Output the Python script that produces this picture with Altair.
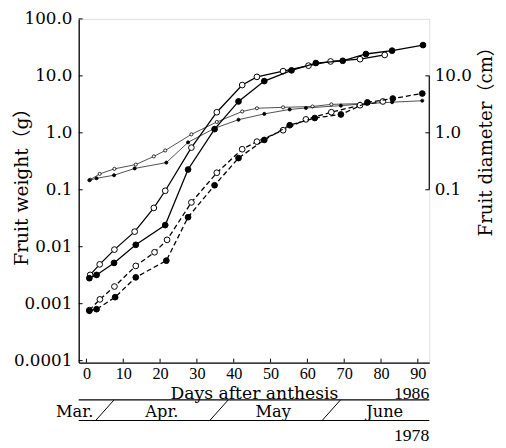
import altair as alt
import pandas as pd

# ---------------- data ----------------
# Fruit weight (g)
wA_day = [1.0, 3.6, 7.6, 13.1, 18.3, 21.4, 28.5, 35.4, 42.3, 46.3, 53.4, 60.3, 66.3, 74.3, 81.0]
wA_val = [0.0032, 0.0049, 0.0089, 0.0184, 0.048, 0.096, 0.55, 2.3, 6.9, 9.6, 12.1, 15.1, 17.9, 19.6, 23.3]
wB_day = [0.8, 2.75, 7.5, 13.4, 21.4, 27.6, 34.8, 41.3, 48.3, 55.7, 62.3, 69.6, 75.9, 83.0, 91.4]
wB_val = [0.0028, 0.0032, 0.0052, 0.0108, 0.024, 0.227, 1.16, 3.56, 8.1, 12.5, 16.8, 18.4, 24.2, 27.7, 34.7]
wC_day = [0.8, 3.65, 7.6, 13.4, 18.5, 21.9, 28.5, 35.4, 42.3, 46.3, 53.4, 59.6, 66.5, 74.3, 80.5]
wC_val = [0.00077, 0.00119, 0.0020, 0.0046, 0.008, 0.0132, 0.060, 0.199, 0.515, 0.70, 1.11, 1.72, 2.30, 3.05, 3.55]
wD_day = [0.8, 2.75, 7.8, 13.4, 21.7, 27.6, 34.8, 41.3, 48.3, 55.2, 62.0, 69.1, 76.3, 83.2, 91.2]
wD_val = [0.00075, 0.0008, 0.0013, 0.0029, 0.0057, 0.033, 0.12, 0.36, 0.75, 1.36, 1.82, 2.1, 3.42, 4.0, 4.9]
# Fruit diameter (cm)
dA_day = [1.0, 3.6, 7.6, 13.4, 18.3, 21.4, 28.5, 35.4, 42.3, 46.3, 53.4, 61.4, 66.5, 74.3]
dA_val = [0.15, 0.19, 0.233, 0.277, 0.385, 0.49, 0.94, 1.55, 2.37, 2.7, 2.8, 2.9, 3.16, 3.25]
dB_day = [0.8, 2.75, 7.5, 13.1, 21.7, 27.6, 34.8, 41.3, 48.3, 55.2, 59.6, 69.1, 76.0, 83.0, 91.2]
dB_val = [0.147, 0.159, 0.18, 0.237, 0.30, 0.68, 1.2, 1.7, 2.15, 2.57, 2.73, 3.0, 3.25, 3.45, 3.66]

x_ticks = [0, 10, 20, 30, 40, 50, 60, 70, 80, 90]
y_ticks = [0.0001, 0.001, 0.01, 0.1, 1, 10, 100]
r_ticks = [0.1, 1, 10]
months = ["Mar.", "Apr.", "May", "June"]
month_mid = [-3.2, 20.5, 50.7, 81.0]
month_bound = [5.0, 36.0, 66.5]
years = ["1986", "1978"]

# ---------------- layout ----------------
W, H = 357, 350
xscale = alt.Scale(domain=[-2.1, 93.1], nice=False, zero=False)
yscale = alt.Scale(type="log", domain=[9.24e-5, 100], nice=False)
LABEL_EXPR = "datum.value >= 1 ? format(datum.value, '.1f') : format(datum.value, '~g')"
TITLE_FONT = "DejaVu Serif, Noto Sans CJK JP"


def series(days, vals, filled, dashed, thin):
    df = pd.DataFrame({"day": days, "value": vals})
    enc = dict(
        x=alt.X("day:Q", scale=xscale, axis=None),
        y=alt.Y("value:Q", scale=yscale, axis=None),
    )
    kw = dict(color="#222" if thin else "black", strokeWidth=0.8 if thin else 1.3)
    if dashed:
        kw["strokeDash"] = [5, 3]
    line = alt.Chart(df).mark_line(**kw).encode(**enc)
    pts = alt.Chart(df).mark_point(
        shape="circle", filled=True, fill="black" if filled else "white",
        stroke="black", strokeWidth=0.8 if thin else 1.0,
        size=10 if thin else 34, opacity=1,
    ).encode(**enc)
    return [line, pts]


layers = []
# left axis + inward ticks
layers.append(
    alt.Chart(pd.DataFrame({"v": y_ticks})).mark_rule(color="black", strokeWidth=1).encode(
        y=alt.Y("v:Q", scale=yscale, axis=alt.Axis(
            orient="left", values=y_ticks, labelExpr=LABEL_EXPR, ticks=False,
            domain=True, domainColor="black", domainWidth=1.3, grid=False,
            labelFont="DejaVu Serif", labelFontSize=17, labelColor="black",
            labelPadding=7, labelOverlap=False, labelBaseline="middle",
            title="Fruit weight（g）", titleFont=TITLE_FONT, titleFontSize=19,
            titleFontWeight="normal", titleColor="black", titleAngle=270,
            titleX=-58, titleY=166, titleAlign="center", titleBaseline="middle")),
        x=alt.value(0), x2=alt.value(4),
    )
)
# bottom axis + inward ticks
layers.append(
    alt.Chart(pd.DataFrame({"v": x_ticks})).mark_rule(color="black", strokeWidth=1).encode(
        x=alt.X("v:Q", scale=xscale, axis=alt.Axis(
            orient="bottom", values=x_ticks, format="d", ticks=False,
            domain=True, domainColor="black", domainWidth=1.3, grid=False,
            labelFont="Liberation Serif", labelFontSize=16.5, labelColor="black",
            labelPadding=3, labelOverlap=False, labelFlush=False,
            title="Days after anthesis", titleFont=TITLE_FONT, titleFontSize=17.5,
            titleFontWeight="normal", titleColor="black",
            titleY=37, titleBaseline="alphabetic")),
        y=alt.value(H), y2=alt.value(H - 4),
    )
)
# right axis (diameter) ticks + labels
layers.append(
    alt.Chart(pd.DataFrame({"v": r_ticks})).mark_rule(color="black", strokeWidth=1).encode(
        y=alt.Y("v:Q", scale=yscale, axis=alt.Axis(
            orient="right", values=r_ticks, labelExpr=LABEL_EXPR, ticks=False,
            domain=False, grid=False,
            labelFont="DejaVu Serif", labelFontSize=17, labelColor="black",
            labelPadding=5, labelOverlap=False, labelBaseline="middle",
            title="Fruit diameter（cm）", titleFont=TITLE_FONT, titleFontSize=18.5,
            titleFontWeight="normal", titleColor="black", titleAngle=270,
            titleX=57, titleY=120, titleAlign="center", titleBaseline="middle")),
        x=alt.value(W - 4), x2=alt.value(W),
    )
)
layers.append(
    alt.Chart(pd.DataFrame({"lo": [r_ticks[0]], "hi": [r_ticks[-1]]})).mark_rule(
        color="black", strokeWidth=1.2).encode(
        y=alt.Y("lo:Q", scale=yscale, axis=None), y2="hi:Q", x=alt.value(W))
)

# data series
layers += series(dA_day, dA_val, filled=False, dashed=False, thin=True)
layers += series(dB_day, dB_val, filled=True, dashed=False, thin=True)
layers += series(wC_day, wC_val, filled=False, dashed=True, thin=False)
layers += series(wD_day, wD_val, filled=True, dashed=True, thin=False)
layers += series(wA_day, wA_val, filled=False, dashed=False, thin=False)
layers += series(wB_day, wB_val, filled=True, dashed=False, thin=False)

# month band below the axis
for yy in (388, 409):
    layers.append(alt.Chart(pd.DataFrame({"a": [0]})).mark_rule(color="black", strokeWidth=1.2).encode(
        x=alt.value(0), x2=alt.value(W), y=alt.value(yy)))
layers.append(
    alt.Chart(pd.DataFrame({"b": month_bound})).transform_calculate(
        b0="datum.b - 2.5", b1="datum.b + 2.5").mark_rule(color="black", strokeWidth=1).encode(
        x=alt.X("b0:Q", scale=xscale, axis=None), x2="b1:Q",
        y=alt.value(409), y2=alt.value(388))
)
layers.append(
    alt.Chart(pd.DataFrame({"m": months, "mid": month_mid})).mark_text(
        font="DejaVu Serif", fontSize=16.5, color="black", baseline="alphabetic", align="center").encode(
        x=alt.X("mid:Q", scale=xscale, axis=None), y=alt.value(405), text="m:N")
)
layers.append(
    alt.Chart(pd.DataFrame({"t": [years[0]]})).mark_text(
        font="Liberation Serif", fontSize=18, color="black", baseline="alphabetic", align="right").encode(
        x=alt.value(W), y=alt.value(387), text="t:N")
)
layers.append(
    alt.Chart(pd.DataFrame({"t": [years[1]]})).mark_text(
        font="Liberation Serif", fontSize=18, color="black", baseline="alphabetic", align="right").encode(
        x=alt.value(W), y=alt.value(430), text="t:N")
)

chart = alt.layer(*layers).resolve_axis(x="independent", y="independent").properties(
    width=W, height=H,
    autosize=alt.AutoSizeParams(type="none"),
    padding={"left": 72, "top": 7, "right": 70, "bottom": 90},
).configure_view(strokeWidth=0).configure(background="white")

chart.save("out.html", embed_options={"renderer": "svg", "actions": False})
